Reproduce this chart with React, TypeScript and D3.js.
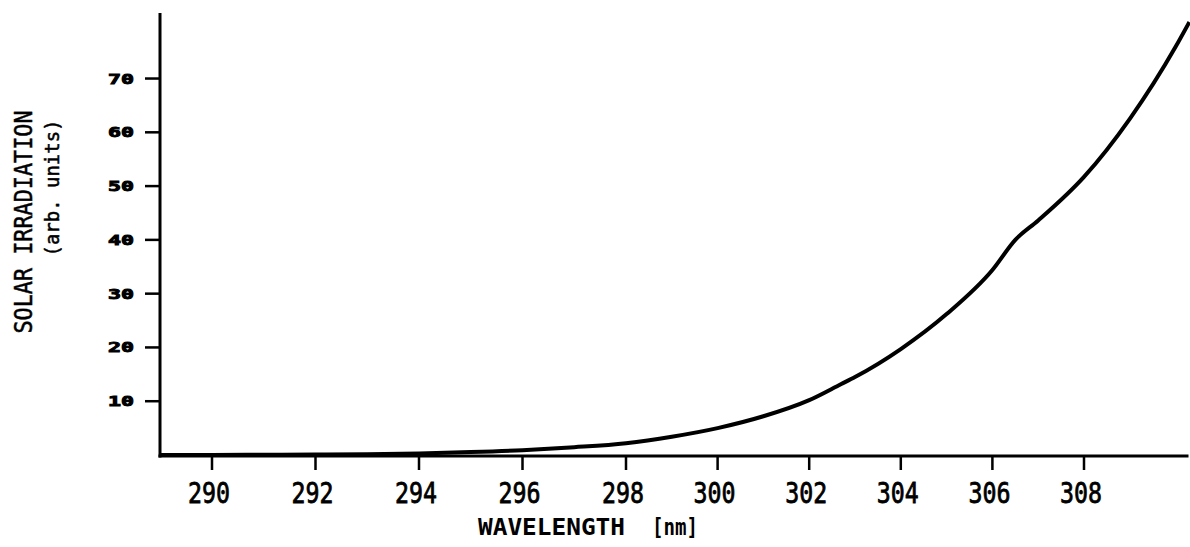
import React, { useMemo } from 'react'
import { scaleLinear, line, curveMonotoneX } from 'd3'

// wavelength (nm) and relative solar irradiation
const wavelengths = [289.0, 290, 291, 292, 293, 294, 295, 296, 297, 298, 299, 300, 301, 302, 302.7, 303, 304, 305, 306, 306.5, 307, 308, 309, 310, 310.3]
const irradiation = [0.0, 0.02, 0.05, 0.08, 0.14, 0.3, 0.55, 0.9, 1.45, 2.2, 3.4, 5.0, 7.2, 10.2, 13.2, 14.5, 19.7, 26.2, 34.4, 40.0, 43.6, 51.7, 62.5, 75.9, 80.5]

const xTicks = [290, 292, 294, 296, 298, 300, 302, 304, 306, 308]
const yTicks = [10, 20, 30, 40, 50, 60, 70]

const W = 1190, H = 547
const FONT = '"DejaVu Sans Mono", monospace'

export default function App() {
    // the scan is slightly stretched, so the x scale has a knee at 298 nm
    const xScale = useMemo(() => scaleLinear().domain([290, 298, 308]).range([212, 626, 1084]), [])
    const yScale = useMemo(() => scaleLinear().domain([0, 82]).range([455, 14]), [])

    const pts: [number, number][] = wavelengths.map((w, i) => [w, irradiation[i]])
    const path = line<[number, number]>()
        .x(d => xScale(d[0]))
        .y(d => yScale(d[1]))
        .curve(curveMonotoneX)(pts) ?? ''

    const x0 = 160
    const y0 = yScale(0) + 1

    return (
        <svg width={W} height={H} style={{ position: 'absolute', left: 0, top: 0, background: '#fff' }}>
            {/* axes */}
            <rect x={x0 - 1.5} y={13} width={3} height={y0 - 13 + 1.5} fill="#000" />
            <rect x={x0 - 1.5} y={y0 - 1.5} width={W - x0} height={3} fill="#000" />

            {/* y ticks */}
            {yTicks.map(t => (
                <rect key={'yt' + t} x={x0 - 15} y={yScale(t) - 1.25} width={15} height={2.5} fill="#000" />
            ))}
            {yTicks.map(t => (
                <text key={t} x={134} y={yScale(t) + 5} textAnchor="end" fontFamily={FONT} fontWeight="bold"
                    fontSize={13.5} stroke="#000" strokeWidth={0.9} textLength={26}
                    lengthAdjust="spacingAndGlyphs">{t}</text>
            ))}

            {/* x ticks */}
            {xTicks.map(t => (
                <rect key={'xt' + t} x={xScale(t) - 1.25} y={y0} width={2.5} height={14} fill="#000" />
            ))}
            {xTicks.map(t => (
                <text key={t} x={xScale(t) - 3} y={503} textAnchor="middle" fontFamily={FONT} fontSize={29}
                    stroke="#000" strokeWidth={0.8} textLength={42}
                    lengthAdjust="spacingAndGlyphs">{t}</text>
            ))}

            {/* curve */}
            <path d={path} fill="none" stroke="#000" strokeWidth={4} strokeLinejoin="round" />

            {/* axis titles */}
            <text x={478} y={535} fontFamily={FONT} fontSize={23} fontWeight="bold"
                textLength={147} lengthAdjust="spacingAndGlyphs">WAVELENGTH</text>
            <text x={652} y={535} fontFamily={FONT} fontSize={23} fontWeight="bold"
                textLength={46} lengthAdjust="spacingAndGlyphs">[nm]</text>

            <text transform="translate(32,222) rotate(-90)" textAnchor="middle" fontFamily={FONT} fontSize={25}
                stroke="#000" strokeWidth={0.5} textLength={223}
                lengthAdjust="spacingAndGlyphs">SOLAR IRRADIATION</text>
            <text transform="translate(59,188) rotate(-90)" textAnchor="middle" fontFamily={FONT} fontSize={20}
                stroke="#000" strokeWidth={0.5} textLength={137}
                lengthAdjust="spacingAndGlyphs">(arb. units)</text>
        </svg>
    )
}
